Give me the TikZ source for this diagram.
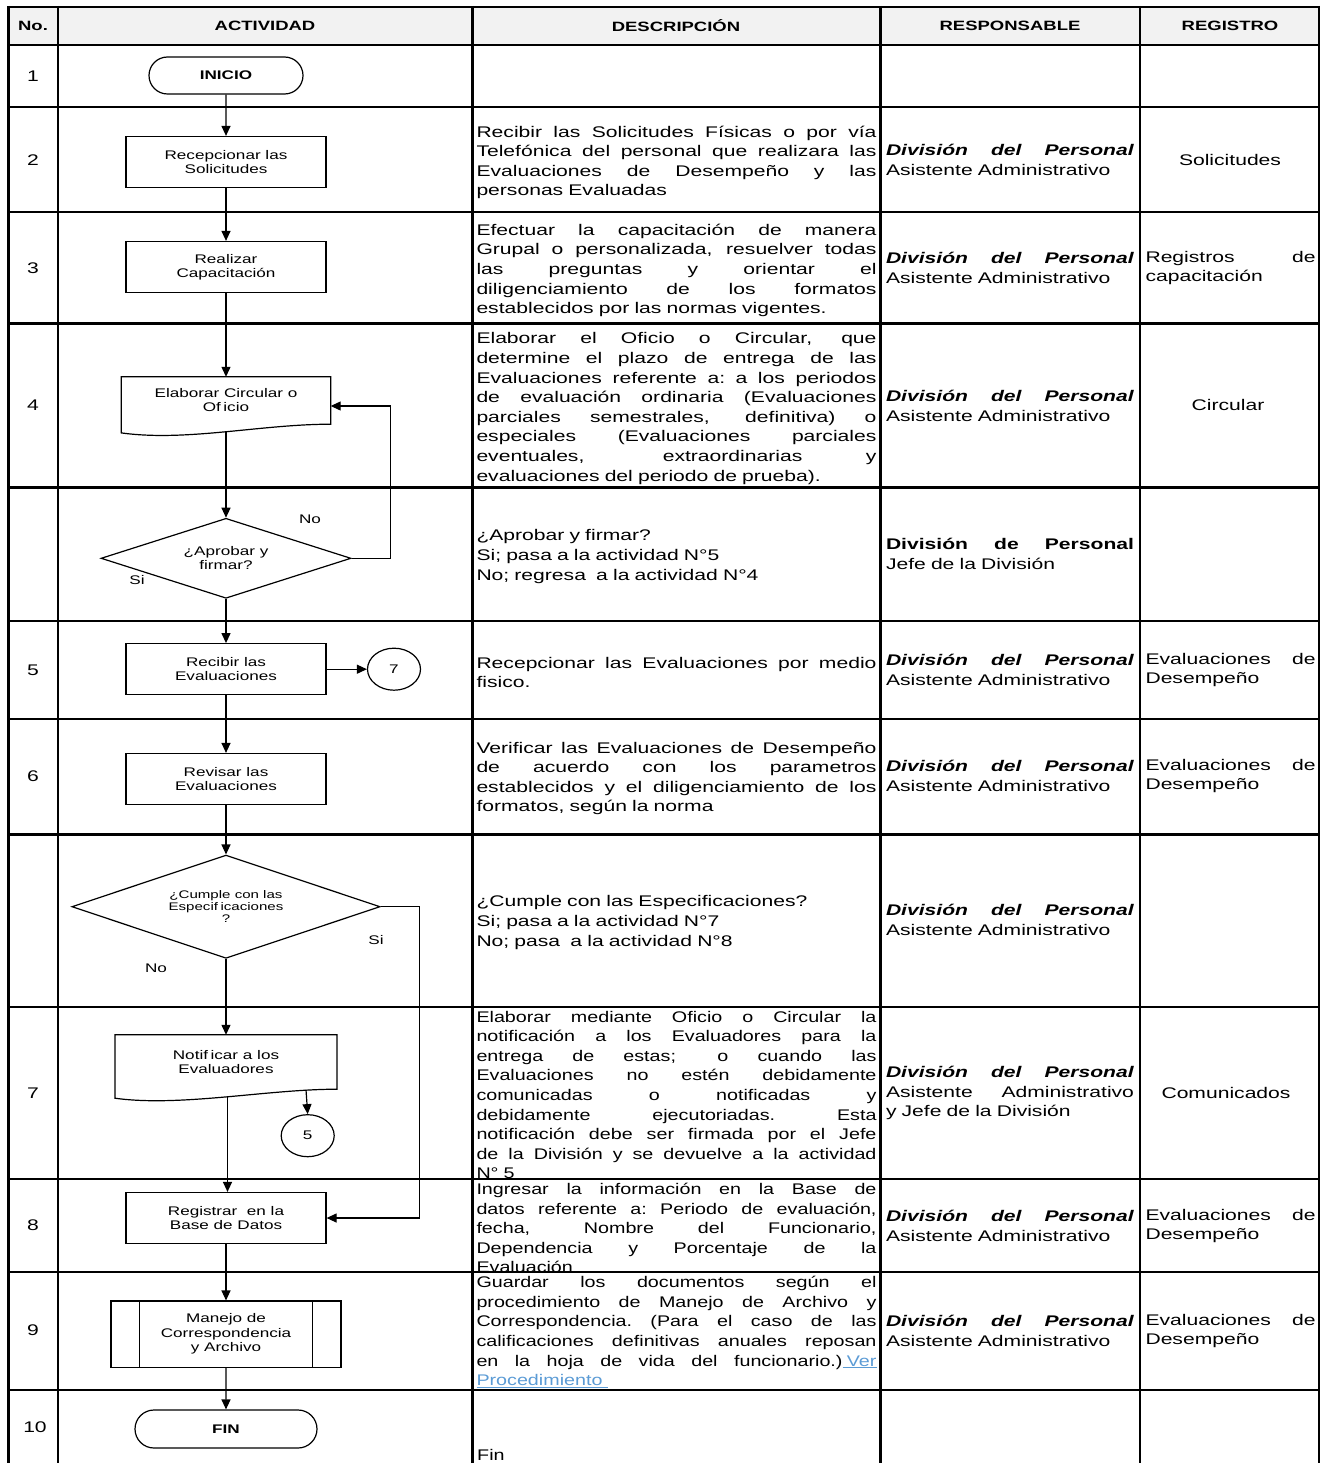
\documentclass[tikz,border=0pt]{standalone}
\usepackage{fontspec}
\setmainfont{Liberation Sans}[FakeStretch=1.37]
\newfontfamily\narrowfam{Liberation Sans}[FakeStretch=1.28]
\usetikzlibrary{arrows.meta,shapes.geometric,shapes.misc,calc}
\definecolor{hdrgray}{HTML}{F2F2F2}
\definecolor{linkblue}{HTML}{5B9BD5}
\newcommand\tf{\fontsize{15.4}{19.6}\selectfont}
\newcommand\tfn{\narrowfam\fontsize{15.4}{19.6}\selectfont}
\newcommand\hf{\fontsize{13.5}{16}\selectfont\bfseries}
\newcommand\ff{\fontsize{12.5}{14}\selectfont}
\newcommand\JL[1]{\makebox[\hsize][s]{\spaceskip=0.28em plus 20em\relax\xspaceskip=0.28em plus 20em\relax #1}\\}
\newcommand\DivP{\textbf{\textit{División del Personal}}}
\begin{document}
\begin{tikzpicture}[x=1pt,y=-1pt,
 grid/.style={line width=2.3pt},
 flow/.style={line width=1.2pt},
 arr/.style={line width=1.2pt,-{Triangle[length=10pt,width=9pt]}},
 proc/.style={draw,line width=1.2pt,rectangle,minimum width=200pt,minimum height=51pt,inner sep=0pt,align=center,font=\ff},
 term/.style={draw,line width=1.2pt,rounded rectangle,minimum width=154pt,minimum height=37pt,inner sep=0pt,font=\ff\bfseries},
 dec/.style={draw,line width=1.2pt,diamond,aspect=3,inner sep=0pt,align=center,font=\ff},
 docn/.style={inner sep=0pt,align=center,font=\ff},
 conn/.style={draw,line width=1.2pt,ellipse,minimum width=53pt,minimum height=42pt,inner sep=0pt,font=\ff},
 lbl/.style={inner sep=0pt,font=\ff},
 hdr/.style={inner sep=0pt,font=\hf},
 num/.style={inner sep=0pt,font=\tf},
 desc/.style={text width=400pt,align=left,inner sep=0pt,font=\tf,yshift=-2.5pt},
 descn/.style={text width=400pt,align=left,inner sep=0pt,font=\tfn,yshift=-1pt},
 resp/.style={text width=248pt,align=left,inner sep=0pt,font=\tf},
 reg/.style={text width=170pt,align=left,inner sep=0pt,font=\tf},
 regc/.style={inner sep=0pt,font=\tf}]

\useasboundingbox (0,0) rectangle (1327,1463);

% header fill
\fill[hdrgray] (8.5,7) rectangle (1319,45);

% header texts
\node[hdr] (hno) at (33,26) {No.};
\node[hdr] (hact) at (265,26) {ACTIVIDAD};
\node[hdr] (hdes) at (676,26) {DESCRIPCIÓN};
\node[hdr] (hres) at (1010,26) {RESPONSABLE};
\node[hdr] (hreg) at (1230,26) {REGISTRO};

% row numbers
\node[num] (n1) at (33,76) {1};
\node[num] (n2) at (33,160) {2};
\node[num] (n3) at (33,268) {3};
\node[num] (n4) at (33,405) {4};
\node[num] (n5) at (33,670) {5};
\node[num] (n6) at (33,776) {6};
\node[num] (n7) at (33,1093) {7};
\node[num] (n8) at (33,1225) {8};
\node[num] (n9) at (33,1330) {9};
\node[num] (n10) at (35,1427) {10};

% ---------------- flowchart ----------------
\node[term] (t1) at (226,75.5) {INICIO};
\node[proc] (p2) at (226,162) {Recepcionar las\\Solicitudes};
\node[proc] (p3) at (226,267) {Realizar\\Capacitación};
\node[docn,minimum width=209pt,minimum height=47pt] (doc4) at (226,400.5) {Elaborar Circular o\\Of\kern2.5pt icio};
\draw[flow] (doc4.north west) -- (doc4.north east) -- (doc4.south east)
  .. controls +(-70,0) and +(65,9) .. ($(doc4.south west)+(0,8.7)$) -- cycle;
\coordinate (doc4b) at (226,431.5);
\node[dec,minimum width=250pt,minimum height=80pt] (d1) at (226,558.3) {¿Aprobar y\\firmar?};
\node[lbl] (lno1) at (310,519) {No};
\node[lbl] (lsi1) at (137,580) {Si};
\coordinate (loopA) at (390.7,406);
\node[proc] (p5) at (226,669.2) {Recibir las\\Evaluaciones};
\node[conn] (c7) at (394,669.2) {7};
\node[proc] (p6) at (226,779) {Revisar las\\Evaluaciones};
\node[dec,minimum width=308.3pt,minimum height=103.3pt,font=\fontsize{11}{12}\selectfont] (d2) at (226,906.7) {¿Cumple con las\\Especif\kern2.5pt icaciones\\?};
\node[lbl] (lsi2) at (376,940) {Si};
\node[lbl] (lno2) at (156,968) {No};
\node[docn,minimum width=221.7pt,minimum height=54pt] (doc7) at (226,1062) {Notif\kern2.5pt icar a los\\Evaluadores};
\draw[flow] (doc7.north west) -- (doc7.north east) -- (doc7.south east)
  .. controls +(-70,0) and +(65,9) .. ($(doc7.south west)+(0,9)$) -- cycle;
\coordinate (doc7a) at (306,1089.8);
\coordinate (doc7b) at (227.5,1096.8);
\node[conn] (c5) at (307.7,1135.7) {5};
\node[proc] (p8) at (226,1218) {Registrar\ \ en la\\Base de Datos};
\coordinate (loopB) at (419.3,1218);
\node[proc,minimum width=230pt,minimum height=66.3pt,font=\fontsize{12.5}{14.5}\selectfont] (p9) at (226,1334.2) {Manejo de\\Correspondencia\\y Archivo};
\draw[flow] ($(p9.north west)+(29,0)$) -- ($(p9.south west)+(29,0)$);
\draw[flow] ($(p9.north east)+(-29,0)$) -- ($(p9.south east)+(-29,0)$);
\node[term,minimum width=182pt,minimum height=38pt] (t10) at (226,1429) {FIN};

% connectors
\draw[arr] (t1) -- (p2);
\draw[arr] (p2) -- (p3);
\draw[arr] (p3) -- (doc4.north);
\draw[arr] (doc4b) -- (d1.north);
\draw[arr] (d1.east) -| (loopA) -- (loopA -| doc4.east);
\draw[arr] (d1.south) -- (p5.north);
\draw[arr] (p5.east) -- (c7.west);
\draw[arr] (p5) -- (p6);
\draw[arr] (p6.south) -- (d2.north);
\draw[arr] (d2.east) -| (loopB) -- (p8.east);
\draw[arr] (d2.south) -- (doc7.north);
\draw[arr] (doc7a) -- (c5.north);
\draw[arr] (doc7b) -- (doc7b |- p8.north);
\draw[arr] (p8) -- (p9);
\draw[arr] (p9) -- (t10);

% ---------------- descriptions ----------------
\node[desc] (ds2) at (676.5,160) {\JL{Recibir las Solicitudes Físicas o por vía}\JL{Telefónica del personal que realizara las}\JL{Evaluaciones de Desempeño y las}personas Evaluadas};
\node[desc] (ds3) at (676.5,268) {\JL{Efectuar la capacitación de manera}\JL{Grupal o personalizada, resuelver todas}\JL{las preguntas y orientar el}\JL{diligenciamiento de los formatos}establecidos por las normas vigentes.};
\node[desc] (ds4) at (676.5,406) {\JL{Elaborar el Oficio o Circular, que}\JL{determine el plazo de entrega de las}\JL{Evaluaciones referente a: a los periodos}\JL{de evaluación ordinaria (Evaluaciones}\JL{parciales semestrales, definitiva) o}\JL{especiales (Evaluaciones parciales}\JL{eventuales, extraordinarias y}evaluaciones del periodo de prueba).};
\node[desc] (dsd1) at (676.5,554) {¿Aprobar y firmar?\\Si; pasa a la actividad N°5\\No; regresa\ \ a la actividad N°4};
\node[desc] (ds5) at (676.5,670) {\JL{Recepcionar las Evaluaciones por medio}fisico.};
\node[desc] (ds6) at (676.5,776) {\JL{Verificar las Evaluaciones de Desempeño}\JL{de acuerdo con los parametros}\JL{establecidos y el diligenciamiento de los}formatos, según la norma};
\node[desc] (dsd2) at (676.5,920) {¿Cumple con las Especificaciones?\\Si; pasa a la actividad N°7\\No; pasa\ \ a la actividad N°8};
\node[descn] (ds7) at (676.5,1094) {\JL{Elaborar mediante Oficio o Circular la}\JL{notificación a los Evaluadores para la}\JL{entrega de estas; o cuando las}\JL{Evaluaciones no estén debidamente}\JL{comunicadas o notificadas y}\JL{debidamente ejecutoriadas. Esta}\JL{notificación debe ser firmada por el Jefe}\JL{de la División y se devuelve a la actividad}N° 5};
\node[descn] (ds8) at (676.5,1227) {\JL{Ingresar la información en la Base de}\JL{datos referente a: Periodo de evaluación,}\JL{fecha, Nombre del Funcionario,}\JL{Dependencia y Porcentaje de la}Evaluación};
\node[descn] (ds9) at (676.5,1331) {\JL{Guardar los documentos según el}\JL{procedimiento de Manejo de Archivo y}\JL{Correspondencia. (Para el caso de las}\JL{calificaciones definitivas anuales reposan}\JL{en la hoja de vida del funcionario.)\textcolor{linkblue}{\underline{\ Ver}}}\textcolor{linkblue}{\underline{Procedimiento\ }}};
\node[inner sep=0pt,font=\tfn,anchor=base west] (ds10) at (477,1460) {Fin};

% ---------------- responsables ----------------
\node[resp] (r2) at (1010,160) {\JL{\DivP}Asistente Administrativo};
\node[resp] (r3) at (1010,268) {\JL{\DivP}Asistente Administrativo};
\node[resp] (r4) at (1010,406) {\JL{\DivP}Asistente Administrativo};
\node[resp] (rd1) at (1010,554) {\JL{\textbf{División de Personal}}Jefe de la División};
\node[resp] (r5) at (1010,670) {\JL{\DivP}Asistente Administrativo};
\node[resp] (r6) at (1010,776) {\JL{\DivP}Asistente Administrativo};
\node[resp] (rd2) at (1010,920) {\JL{\DivP}Asistente Administrativo};
\node[resp] (r7) at (1010,1093) {\JL{\DivP}\JL{Asistente Administrativo}y Jefe de la División};
\node[resp] (r8) at (1010,1226) {\JL{\DivP}Asistente Administrativo};
\node[resp] (r9) at (1010,1331) {\JL{\DivP}Asistente Administrativo};

% ---------------- registros ----------------
\node[regc] (g2) at (1230,160) {Solicitudes};
\node[reg] (g3) at (1230.5,268) {\JL{Registros de}capacitación};
\node[regc] (g4) at (1228,405) {Circular};
\node[reg] (g5) at (1230.5,670) {\JL{Evaluaciones de}Desempeño};
\node[reg] (g6) at (1230.5,776) {\JL{Evaluaciones de}Desempeño};
\node[regc] (g7) at (1226,1093) {Comunicados};
\node[reg] (g8) at (1230.5,1226) {\JL{Evaluaciones de}Desempeño};
\node[reg] (g9) at (1230.5,1331) {\JL{Evaluaciones de}Desempeño};

% ---------------- grid ----------------
\foreach \yy in {7,45,107,212,323.5,487.5,621,719,834.5,1007,1179,1272,1390}
  \draw[grid] (7.35,\yy) -- (1320.15,\yy);
\foreach \xx in {8.5,58.3,472.5,880.5,1140,1319}
  \draw[grid] (\xx,5.85) -- (\xx,1470);
\end{tikzpicture}
\end{document}
